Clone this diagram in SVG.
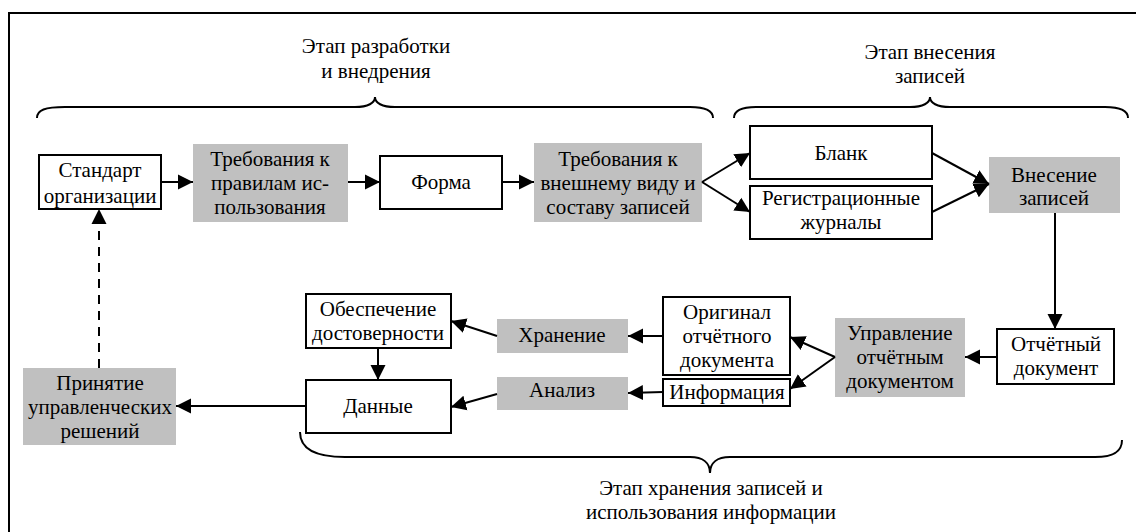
<svg xmlns="http://www.w3.org/2000/svg" width="1136" height="532" viewBox="0 0 1136 532">
<style>
.box{fill:#fff;stroke:#000;stroke-width:2}
.gray{fill:#c0c0c0;stroke:none}
.t{font-family:"Liberation Serif","Times New Roman",serif;font-size:21px;fill:#000;text-anchor:middle}
.c{fill:none;stroke:#000;stroke-width:2}
.br{fill:none;stroke:#000;stroke-width:2}
</style>
<defs>
<marker id="ah" markerUnits="userSpaceOnUse" markerWidth="16" markerHeight="16" refX="15" refY="8" orient="auto">
<path d="M0,0.5 L15,8 L0,15.5 z" fill="#000"/>
</marker>
</defs>
<rect width="1136" height="532" fill="#fff"/>
<path d="M9,532 V13 H1136" fill="none" stroke="#000" stroke-width="2"/>

<g id="braces">
<path class="br" d="M37,118 C37,110 45,107 65,107 L355,107 C368,107 375,103 375,97 C375,103 382,107 395,107 L690,107 C706,107 713,111 713,118"/>
<path class="br" d="M734,118 C734,111 741,107 756,107 L910,107 C923,107 930,103 930,97 C930,103 937,107 950,107 L1105,107 C1121,107 1128,111 1128,118"/>
<path class="br" d="M300,432 C300,450 318,457 345,457 L690,457 C703,457 710,463 710,473 C710,463 717,457 730,457 L1095,457 C1116,457 1122,450 1122,440"/>
<text class="t" x="376" y="53">Этап разработки</text>
<text class="t" x="376" y="78">и внедрения</text>
<text class="t" x="930" y="59">Этап внесения</text>
<text class="t" x="930" y="83">записей</text>
<text class="t" x="711" y="495">Этап хранения записей и</text>
<text class="t" x="711" y="519">использования информации</text>
</g>

<g id="n-standard"><rect class="box" x="39" y="155" width="122" height="54"/>
<text class="t" x="100" y="177">Стандарт</text><text class="t" x="100" y="203">организации</text></g>

<g id="n-treb1"><rect class="gray" x="193" y="144" width="155" height="78"/>
<text class="t" x="270" y="166">Требования к</text><text class="t" x="270" y="190">правилам ис-</text><text class="t" x="270" y="214">пользования</text></g>

<g id="n-forma"><rect class="box" x="380" y="156" width="122" height="53"/>
<text class="t" x="441" y="189">Форма</text></g>

<g id="n-treb2"><rect class="gray" x="534" y="143" width="168" height="79"/>
<text class="t" x="618" y="166">Требования к</text><text class="t" x="618" y="190">внешнему виду и</text><text class="t" x="618" y="214">составу записей</text></g>

<g id="n-blank"><rect class="box" x="750" y="126" width="182" height="53"/>
<text class="t" x="841" y="160">Бланк</text></g>

<g id="n-journal"><rect class="box" x="750" y="186" width="182" height="53"/>
<text class="t" x="841" y="205">Регистрационные</text><text class="t" x="841" y="229">журналы</text></g>

<g id="n-vnesenie"><rect class="gray" x="989" y="157" width="131" height="56"/>
<text class="t" x="1054" y="182">Внесение</text><text class="t" x="1054" y="205">записей</text></g>

<g id="n-otchet"><rect class="box" x="997" y="329" width="117" height="55"/>
<text class="t" x="1056" y="351">Отчётный</text><text class="t" x="1056" y="375">документ</text></g>

<g id="n-upr"><rect class="gray" x="835" y="318" width="130" height="79"/>
<text class="t" x="900" y="340">Управление</text><text class="t" x="900" y="364">отчётным</text><text class="t" x="900" y="388">документом</text></g>

<g id="n-original"><rect class="box" x="663" y="297" width="127" height="78"/>
<text class="t" x="727" y="319">Оригинал</text><text class="t" x="727" y="343">отчётного</text><text class="t" x="727" y="367">документа</text></g>

<g id="n-info"><rect class="box" x="663" y="379" width="127" height="27"/>
<text class="t" x="727" y="399">Информация</text></g>

<g id="n-hranenie"><rect class="gray" x="497" y="319" width="131" height="34"/>
<text class="t" x="562" y="342">Хранение</text></g>

<g id="n-analiz"><rect class="gray" x="497" y="377" width="131" height="33"/>
<text class="t" x="562" y="397">Анализ</text></g>

<g id="n-obesp"><rect class="box" x="306" y="294" width="145" height="54"/>
<text class="t" x="378" y="316">Обеспечение</text><text class="t" x="378" y="340">достоверности</text></g>

<g id="n-dannye"><rect class="box" x="306" y="380" width="145" height="53"/>
<text class="t" x="378" y="413">Данные</text></g>

<g id="n-prinyatie"><rect class="gray" x="23" y="368" width="153" height="77"/>
<text class="t" x="100" y="390">Принятие</text><text class="t" x="100" y="414">управленческих</text><text class="t" x="100" y="438">решений</text></g>

<g id="connectors">
<line class="c" x1="161" y1="182" x2="193" y2="182" marker-end="url(#ah)"/>
<line class="c" x1="348" y1="182" x2="380" y2="182" marker-end="url(#ah)"/>
<line class="c" x1="502" y1="182" x2="534" y2="182" marker-end="url(#ah)"/>
<line class="c" x1="702" y1="182" x2="750" y2="153" marker-end="url(#ah)"/>
<line class="c" x1="702" y1="182" x2="750" y2="212" marker-end="url(#ah)"/>
<line class="c" x1="932" y1="153" x2="989" y2="184" marker-end="url(#ah)"/>
<line class="c" x1="932" y1="212" x2="989" y2="184" marker-end="url(#ah)"/>
<line class="c" x1="1055" y1="213" x2="1055" y2="329" marker-end="url(#ah)"/>
<line class="c" x1="997" y1="357" x2="965" y2="357" marker-end="url(#ah)"/>
<line class="c" x1="835" y1="357" x2="790" y2="337" marker-end="url(#ah)"/>
<line class="c" x1="835" y1="357" x2="790" y2="389" marker-end="url(#ah)"/>
<line class="c" x1="663" y1="336" x2="628" y2="336" marker-end="url(#ah)"/>
<line class="c" x1="663" y1="392" x2="628" y2="393" marker-end="url(#ah)"/>
<line class="c" x1="497" y1="336" x2="451" y2="321" marker-end="url(#ah)"/>
<line class="c" x1="497" y1="394" x2="451" y2="407" marker-end="url(#ah)"/>
<line class="c" x1="378" y1="348" x2="378" y2="380" marker-end="url(#ah)"/>
<line class="c" x1="306" y1="406" x2="176" y2="406" marker-end="url(#ah)"/>
<line class="c" x1="99" y1="368" x2="99" y2="209" stroke-dasharray="9,7" marker-end="url(#ah)"/>
</g>
</svg>
